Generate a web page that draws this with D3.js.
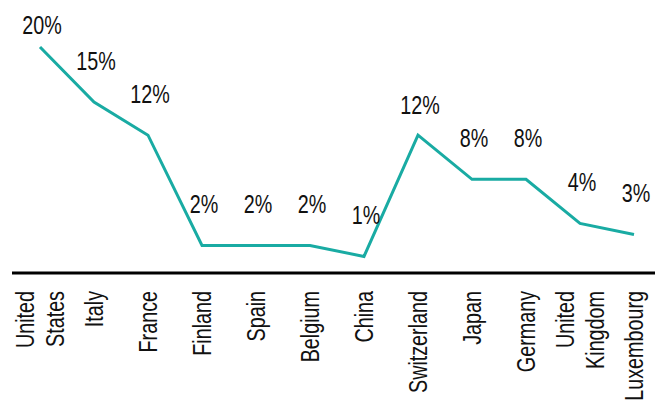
<!DOCTYPE html>
<html>
  <head>
    <meta charset="UTF-8">
    <script src="https://d3js.org/d3.v7.min.js"></script>
    <style>
      body{
        margin: 0;
        background: #fff;
      }
      text{
        font-family: "Liberation Sans", Arial, sans-serif;
        font-size: 25px;
        fill: #111;
      }
    </style>
  </head>
  <body>
    <svg id="chart" width="664" height="401"></svg>

    <script>
      // values
      const countries = ["United States", "Italy", "France", "Finland", "Spain", "Belgium",
                         "China", "Switzerland", "Japan", "Germany", "United Kingdom", "Luxembourg"];
      const shares = [20, 15, 12, 2, 2, 2, 1, 12, 8, 8, 4, 3];
      const labels = ["20%", "15%", "12%", "2%", "2%", "2%", "1%", "12%", "8%", "8%", "4%", "3%"];

      const svg = d3.select("svg#chart");
      // no narrow font installed, so squeeze Liberation Sans to look condensed
      const squeeze = "scale(0.79,1)";

      const data = countries.map((c, i) => ({country: c, value: shares[i], label: labels[i]}));

      const x = d3.scalePoint().domain(countries).range([40, 634]);
      const y = d3.scaleLinear().domain([-0.5, 20]).range([273, 47]);

      // baseline
      svg.append("line")
         .attr("x1", x(countries[0]) - 28)
         .attr("x2", x(countries[countries.length - 1]) + 21)
         .attr("y1", y(-0.5))
         .attr("y2", y(-0.5))
         .attr("stroke", "#000")
         .attr("stroke-width", 3);

      // line
      const line = d3.line()
                     .x(d => x(d.country))
                     .y(d => y(d.value));

      svg.append("path")
         .datum(data)
         .attr("fill", "none")
         .attr("stroke", "#19aba3")
         .attr("stroke-width", 3)
         .attr("stroke-linejoin", "miter")
         .attr("d", line);

      // value labels
      const nudge = {"Switzerland": 11};
      svg.selectAll("text.value")
         .data(data)
         .enter()
         .append("text")
         .attr("class", "value")
         .attr("transform", d => "translate(" + (x(d.country) + 2) + ","
               + (Math.max(y(d.value) - 32, 34) + (nudge[d.country] || 0)) + ") " + squeeze)
         .attr("text-anchor", "middle")
         .text(d => d.label);

      // category labels, rotated
      const xAxis = d3.axisBottom(x).tickSize(0).tickPadding(0);
      const gx = svg.append("g")
                    .attr("transform", "translate(0,291)")
                    .call(xAxis);
      gx.select(".domain").remove();
      gx.selectAll(".tick text").remove();

      gx.selectAll(".tick").each(function(c) {
        const words = c.split(" ");
        const t = d3.select(this).append("text")
                    .attr("transform", "rotate(-90) " + squeeze)
                    .attr("text-anchor", "end");
        words.forEach((w, i) => {
          t.append("tspan")
           .attr("x", 0)
           .attr("dy", i === 0 ? (0.35 - (words.length - 1) * 0.6) + "em" : "1.2em")
           .text(w);
        });
      });
    </script>
  </body>
</html>
